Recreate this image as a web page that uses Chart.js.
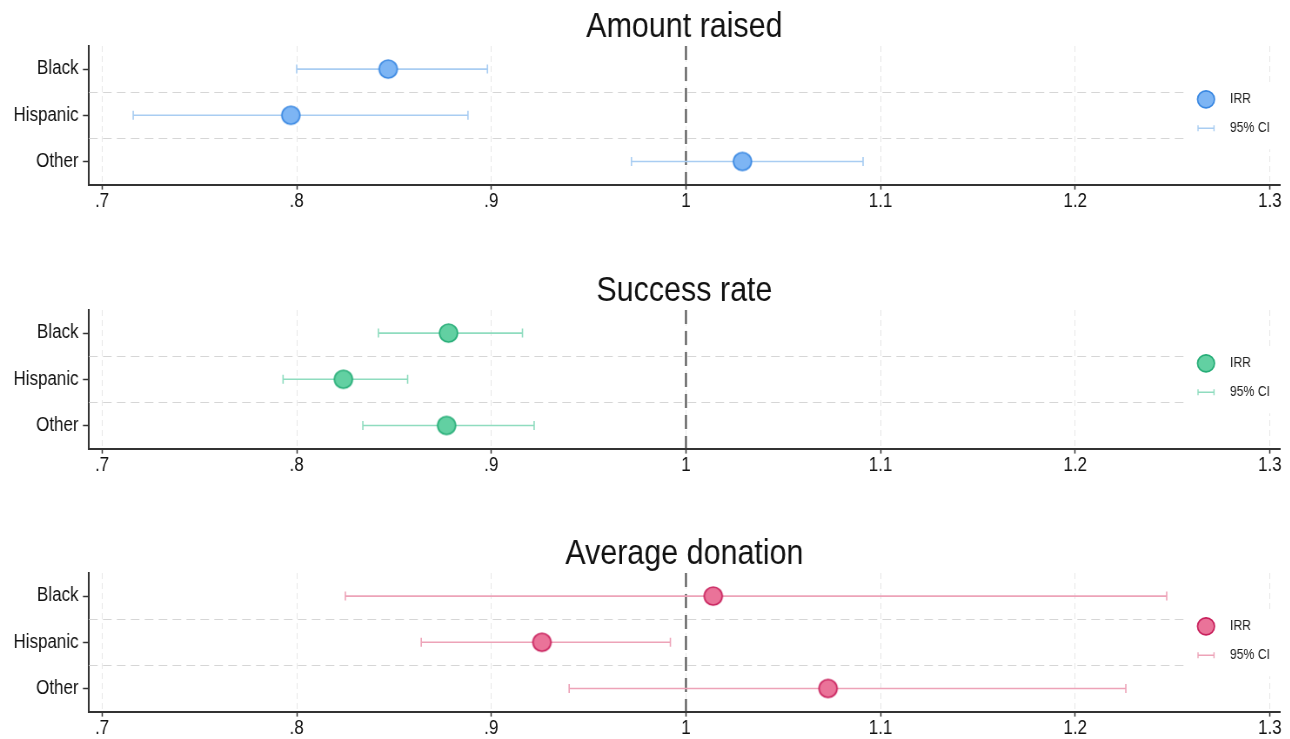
<!DOCTYPE html>
<html><head><meta charset="utf-8">
<script src="https://cdn.jsdelivr.net/npm/chart.js@4.4.1/dist/chart.umd.min.js"></script>
<style>
html,body{margin:0;padding:0;background:#fff;width:1290px;height:739px;overflow:hidden;position:relative}
.panel{position:absolute;left:0;width:1290px;height:220px;overflow:hidden}
canvas{display:block;transform:scaleX(0.87);transform-origin:0 0}
</style></head><body>
<div class="panel" style="top:0px"><canvas id="c0" width="1483" height="220"></canvas></div>
<div class="panel" style="top:264px"><canvas id="c1" width="1483" height="220"></canvas></div>
<div class="panel" style="top:527px"><canvas id="c2" width="1483" height="220"></canvas></div>
<script>
// ---- data ----
const categories = ['Black', 'Hispanic', 'Other'];
const xTickValues = [0.7, 0.8, 0.9, 1.0, 1.1, 1.2, 1.3];
const xTickLabels = ['.7', '.8', '.9', '1', '1.1', '1.2', '1.3'];
const panelTitles = ['Amount raised', 'Success rate', 'Average donation'];
const legendLabels = ['IRR', '95% CI'];
const referenceValue = 1;

const amountIRR = [0.847, 0.797, 1.029];
const amountLo  = [0.800, 0.716, 0.972];
const amountHi  = [0.898, 0.888, 1.091];

const successIRR = [0.878, 0.824, 0.877];
const successLo  = [0.842, 0.793, 0.834];
const successHi  = [0.916, 0.857, 0.922];

const donationIRR = [1.014, 0.926, 1.073];
const donationLo  = [0.825, 0.864, 0.940];
const donationHi  = [1.247, 0.992, 1.226];

// ---- styles ----
const SX = 0.87; // horizontal condensation applied by CSS
const px = v => v / SX;
const FONT = "'Liberation Sans',Arial,Helvetica,sans-serif";
const palettes = [
  {fill: '#7db5f4', border: '#3a88e2', ci: '#a9cdf2'},
  {fill: '#62d0a2', border: '#26ad77', ci: '#8fdcbf'},
  {fill: '#ea7399', border: '#c8205c', ci: '#eda3b8'}
];
const panels = [
  {irr: amountIRR, lo: amountLo, hi: amountHi},
  {irr: successIRR, lo: successLo, hi: successHi},
  {irr: donationIRR, lo: donationLo, hi: donationHi}
];

// marker image that looks round after the horizontal condensation
function makeMarker(fill, border, r, bw) {
  const c = document.createElement('canvas');
  const h = Math.ceil(2 * (r + bw)) + 2;
  const w = Math.ceil(2 * (r + bw) / SX) + 2;
  c.width = w; c.height = h;
  const g = c.getContext('2d');
  g.beginPath();
  g.ellipse(w / 2, h / 2, r / SX, r, 0, 0, Math.PI * 2);
  g.fillStyle = fill; g.fill();
  g.lineWidth = bw; g.strokeStyle = border;
  g.stroke();
  return c;
}

Chart.defaults.font.family = FONT;
Chart.defaults.color = '#111';

const extrasPlugin = {
  id: 'extras',
  beforeDatasetsDraw(chart) {
    const {ctx, chartArea, scales: {y}} = chart;
    ctx.save();
    ctx.strokeStyle = '#d6d6d6';
    ctx.lineWidth = 1;
    ctx.setLineDash([10, 6]);
    [0.5, 1.5].forEach(v => {
      const py = Math.round(y.getPixelForValue(v)) + 0.5;
      ctx.beginPath();
      ctx.moveTo(chartArea.left, py);
      ctx.lineTo(chartArea.right, py);
      ctx.stroke();
    });
    ctx.setLineDash([]);
    const cy = y.getPixelForValue(1);
    ctx.fillStyle = '#ffffff';
    ctx.fillRect(px(1186), cy - 32, px(104), 66);
    ctx.restore();
  },
  afterDatasetsDraw(chart) {
    const {ctx, scales: {y}} = chart;
    const pal = chart.options.plugins.extras.palette;
    const cy = y.getPixelForValue(1);
    const iy = cy - 16, ly = cy + 13;
    ctx.save();
    ctx.beginPath();
    ctx.ellipse(px(1206), iy, 8.5 / SX, 8.5, 0, 0, Math.PI * 2);
    ctx.fillStyle = pal.fill;
    ctx.fill();
    ctx.lineWidth = 1.7;
    ctx.strokeStyle = pal.border;
    ctx.stroke();
    ctx.strokeStyle = pal.ci;
    ctx.lineWidth = 1.4;
    ctx.beginPath();
    ctx.moveTo(px(1198), ly); ctx.lineTo(px(1214), ly);
    ctx.moveTo(px(1198), ly - 3); ctx.lineTo(px(1198), ly + 3);
    ctx.moveTo(px(1214), ly - 3); ctx.lineTo(px(1214), ly + 3);
    ctx.stroke();
    ctx.fillStyle = '#222';
    ctx.font = '14px ' + FONT;
    ctx.textBaseline = 'middle';
    ctx.textAlign = 'left';
    ctx.fillText(legendLabels[0], px(1230), iy);
    ctx.fillText(legendLabels[1], px(1230), ly);
    ctx.restore();
  }
};

panels.forEach((p, k) => {
  const pal = palettes[k];
  const marker = makeMarker(pal.fill, pal.border, 9, 1.7);
  const datasets = [];
  datasets.push({
    label: legendLabels[0],
    data: categories.map((c, i) => ({x: p.irr[i], y: i})),
    pointStyle: marker,
    pointRadius: 9,
    order: 0
  });
  categories.forEach((c, i) => {
    datasets.push({
      label: legendLabels[1] + ' ' + c,
      data: [{x: p.lo[i], y: i}, {x: p.hi[i], y: i}],
      showLine: true,
      borderColor: pal.ci,
      borderWidth: 1.6,
      pointStyle: 'line',
      pointRotation: 90,
      pointRadius: 4.5,
      pointBorderColor: pal.ci,
      pointBorderWidth: 1.6,
      order: 1
    });
  });
  datasets.push({
    label: 'ref',
    data: [{x: referenceValue, y: -0.5}, {x: referenceValue, y: 2.5}],
    showLine: true,
    borderColor: '#444',
    borderWidth: 2,
    borderDash: [14, 7],
    pointRadius: 0,
    order: 2
  });

  new Chart(document.getElementById('c' + k), {
    type: 'scatter',
    data: {datasets},
    plugins: [extrasPlugin],
    options: {
      responsive: false,
      animation: false,
      events: [],
      layout: {padding: {left: 0, right: 12, top: 0, bottom: 7}},
      plugins: {
        legend: {display: false},
        tooltip: {enabled: false},
        title: {
          display: true,
          fullSize: false,
          text: panelTitles[k],
          color: '#111',
          font: {size: 35, weight: 'normal', family: FONT, lineHeight: 1.0},
          padding: {top: 10, bottom: 1}
        },
        extras: {palette: pal}
      },
      scales: {
        x: {
          type: 'linear',
          min: 0.6933,
          max: 1.3051,
          afterBuildTicks: s => { s.ticks = xTickValues.map(v => ({value: v})); },
          ticks: {
            callback: (v, i) => xTickLabels[i],
            font: {size: 19.5},
            color: '#111',
            padding: 0,
            maxRotation: 0,
            autoSkip: false
          },
          grid: {
            color: '#e6e6e6',
            lineWidth: 1,
            tickColor: '#333',
            tickLength: 5,
            tickWidth: 1.5,
            tickBorderDash: []
          },
          border: {color: '#333', width: 2, dash: [6, 4]}
        },
        y: {
          type: 'linear',
          reverse: true,
          min: -0.5,
          max: 2.5,
          afterBuildTicks: s => { s.ticks = categories.map((c, i) => ({value: i})); },
          afterFit: s => { s.width = px(89); },
          ticks: {
            callback: (v) => categories[v],
            font: {size: 19.5},
            color: '#111',
            padding: 5,
            autoSkip: false
          },
          grid: {
            drawOnChartArea: false,
            drawTicks: true,
            tickLength: 7,
            tickColor: '#333',
            tickWidth: 1.5
          },
          border: {color: '#333', width: 2}
        }
      }
    }
  });
});
</script>
</body></html>
